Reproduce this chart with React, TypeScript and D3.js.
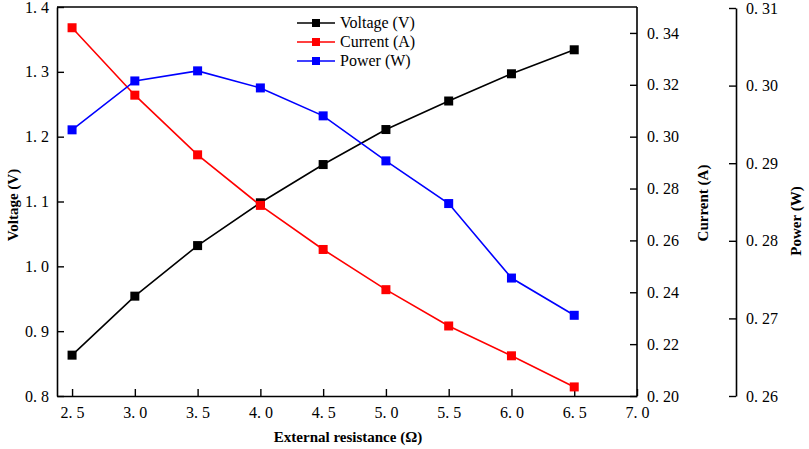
import React, { useEffect, useRef } from 'react';
import * as d3 from 'd3';

const resistance = [2.5, 3.0, 3.5, 4.0, 4.5, 5.0, 5.5, 6.0, 6.5];
const voltage = [0.863, 0.954, 1.032, 1.098, 1.157, 1.211, 1.255, 1.297, 1.334];
const current = [0.342, 0.316, 0.293, 0.2735, 0.2565, 0.241, 0.227, 0.2155, 0.2035];
const power = [0.2943, 0.3006, 0.3019, 0.2997, 0.2961, 0.2903, 0.2848, 0.2752, 0.2704];

const xTicks = [2.5, 3.0, 3.5, 4.0, 4.5, 5.0, 5.5, 6.0, 6.5, 7.0];
const voltageTicks = [0.8, 0.9, 1.0, 1.1, 1.2, 1.3, 1.4];
const currentTicks = [0.20, 0.22, 0.24, 0.26, 0.28, 0.30, 0.32, 0.34];
const powerTicks = [0.26, 0.27, 0.28, 0.29, 0.30, 0.31];

const series = [
  { name: 'Voltage (V)', values: voltage, color: '#000000', axis: 'v' },
  { name: 'Current (A)', values: current, color: '#ff0000', axis: 'c' },
  { name: 'Power (W)', values: power, color: '#0000ff', axis: 'p' },
];

const W = 809;
const H = 449;
const FONT = '"Liberation Serif", "DejaVu Serif", serif';

// "1. 4" style labels as in the original figure
const fmt = (digits: number) => (d: number) => d.toFixed(digits).replace('.', '. ');

export default function App() {
  const ref = useRef<SVGSVGElement>(null);

  useEffect(() => {
    if (!ref.current) return;
    const svg = d3.select(ref.current);
    svg.selectAll('*').remove();

    const left = 57, right = 637, top = 7, bottom = 396;
    const powerX = 736;

    const x = d3.scaleLinear().domain([2.38, 7.0]).range([left, right]);
    const yV = d3.scaleLinear().domain([0.8, 1.4]).range([bottom, top]);
    const yC = d3.scaleLinear().domain([0.2, 0.35]).range([bottom, top]);
    const yP = d3.scaleLinear().domain([0.26, 0.31]).range([bottom, 8]);
    const scales: Record<string, d3.ScaleLinear<number, number>> = { v: yV, c: yC, p: yP };

    const axisStyle = (g: any, fontSize = 16) => {
      g.select('.domain').attr('stroke', '#000').attr('stroke-width', 1.6);
      g.selectAll('.tick line').attr('stroke', '#000').attr('stroke-width', 1.4);
      g.selectAll('.tick text').attr('font-family', FONT).attr('font-size', fontSize).attr('fill', '#000');
    };

    const minor = (ticks: number[]) => {
      const out: number[] = [];
      for (let i = 0; i < ticks.length - 1; i++) out.push((ticks[i] + ticks[i + 1]) / 2);
      return out;
    };

    // top frame line
    svg.append('line')
      .attr('x1', left).attr('x2', right).attr('y1', top).attr('y2', top)
      .attr('stroke', '#000').attr('stroke-width', 1.6);

    // x axis
    const gx = svg.append('g').attr('transform', `translate(0,${bottom})`);
    gx.call(d3.axisBottom(x).tickValues(minor(xTicks)).tickSize(-4).tickFormat(() => '').tickSizeOuter(0));
    gx.call(d3.axisBottom(x).tickValues(xTicks).tickSizeInner(-7).tickSizeOuter(0).tickPadding(11).tickFormat(fmt(1) as any));
    axisStyle(gx);

    // voltage axis
    const gv = svg.append('g').attr('transform', `translate(${left},0)`);
    gv.call(d3.axisLeft(yV).tickValues(minor(voltageTicks)).tickSize(-4).tickFormat(() => '').tickSizeOuter(0));
    gv.call(d3.axisLeft(yV).tickValues(voltageTicks).tickSizeInner(-7).tickSizeOuter(0).tickPadding(8).tickFormat(fmt(1) as any));
    axisStyle(gv);

    // current axis
    const gc = svg.append('g').attr('transform', `translate(${right},0)`);
    gc.call(d3.axisRight(yC).tickValues(minor(currentTicks)).tickSize(-4).tickFormat(() => '').tickSizeOuter(0));
    gc.call(d3.axisRight(yC).tickValues(currentTicks).tickSizeInner(-7).tickSizeOuter(0).tickPadding(10).tickFormat(fmt(2) as any));
    axisStyle(gc);
    gc.select('.domain').attr('d', `M0,${top}V${bottom}`);

    // power axis
    const gp = svg.append('g').attr('transform', `translate(${powerX},0)`);
    gp.call(d3.axisRight(yP).tickValues(minor(powerTicks)).tickSize(-4).tickFormat(() => '').tickSizeOuter(0));
    gp.call(d3.axisRight(yP).tickValues(powerTicks).tickSizeInner(-7).tickSizeOuter(0).tickPadding(10).tickFormat(fmt(2) as any));
    axisStyle(gp);

    // axis titles
    const title = (txt: string, tx: number, ty: number, rot: number) =>
      svg.append('text')
        .attr('transform', `translate(${tx},${ty}) rotate(${rot})`)
        .attr('text-anchor', 'middle')
        .attr('font-family', FONT)
        .attr('font-weight', 'bold')
        .attr('font-size', 15)
        .text(txt);
    title('External resistance (\u03A9)', 348, 442, 0);
    title('Voltage (V)', 18, 205, -90);
    title('Current (A)', 708, 203, -90);
    title('Power (W)', 801, 221, -90);

    // series
    series.forEach(s => {
      const y = scales[s.axis];
      const line = d3.line<number>().x((_, i) => x(resistance[i])).y(d => y(d));
      svg.append('path')
        .attr('d', line(s.values))
        .attr('fill', 'none')
        .attr('stroke', s.color)
        .attr('stroke-width', 1.6);
      svg.append('g').selectAll('rect')
        .data(s.values)
        .join('rect')
        .attr('x', (_, i) => x(resistance[i]) - 4.5)
        .attr('y', d => y(d) - 4.5)
        .attr('width', 9)
        .attr('height', 9)
        .attr('fill', s.color);
    });

    // legend
    const lg = svg.append('g').attr('transform', 'translate(297,23)');
    series.forEach((s, i) => {
      const row = lg.append('g').attr('transform', `translate(0,${i * 19})`);
      row.append('line').attr('x1', 0).attr('x2', 38).attr('stroke', s.color).attr('stroke-width', 1.6);
      row.append('rect').attr('x', 15).attr('y', -4).attr('width', 8).attr('height', 8).attr('fill', s.color);
      row.append('text')
        .attr('x', 43).attr('y', 5)
        .attr('font-family', FONT)
        .attr('font-size', 16)
        .text(s.name);
    });
  }, []);

  return (
    <svg
      ref={ref}
      width={W}
      height={H}
      viewBox={`0 0 ${W} ${H}`}
      style={{ position: 'absolute', left: 0, top: 0, background: '#fff' }}
    />
  );
}
